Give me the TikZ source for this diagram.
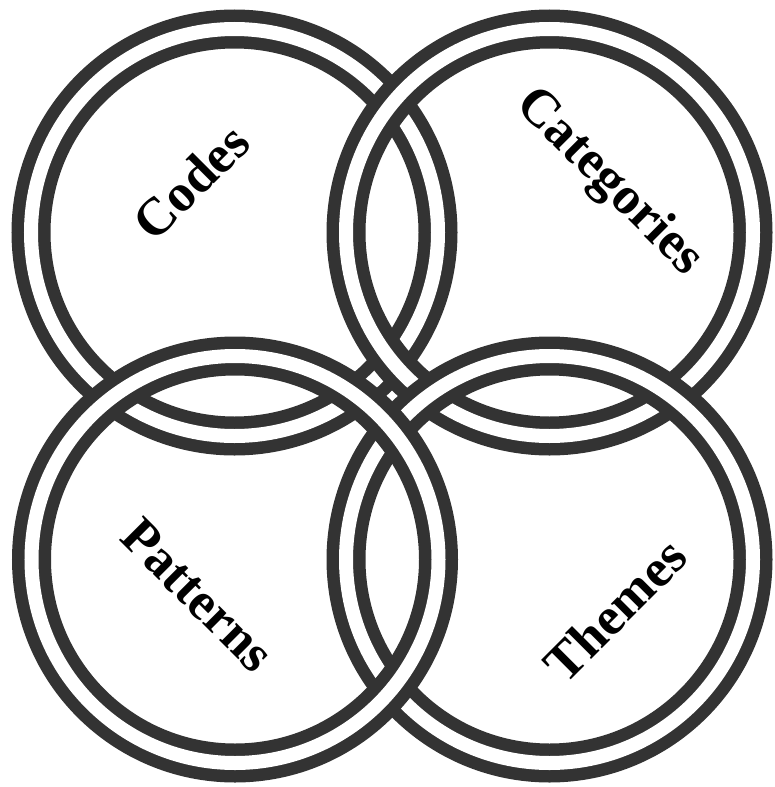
\documentclass[tikz,border=0pt]{standalone}
\usepackage{fontspec}
\setmainfont{Liberation Serif}
\usepackage{tikz}
\definecolor{ringcolor}{RGB}{51,51,51}
\tikzset{
  ring/.style={draw=ringcolor, line width=12.5pt, double=white,
               double distance=14pt},
  ringlabel/.style={font=\fontsize{53}{60}\selectfont\bfseries, text=black,
                    inner sep=0pt},
}
\begin{document}
\begin{tikzpicture}[x=1pt, y=-1pt]
  \useasboundingbox (0,0) rectangle (774,787);

  % Centres
  \coordinate (codesc)  at (234.5,232.5);
  \coordinate (catc)    at (549.5,232.5);
  \coordinate (themesc) at (549.5,559.5);
  \coordinate (pattc)   at (235,559.5);

  % Rings, back to front
  \draw[ring] (codesc)  circle[radius=203.5pt];
  \draw[ring] (catc)    circle[radius=203.5pt];
  \draw[ring] (themesc) circle[radius=203.5pt];
  \draw[ring] (pattc)   circle[radius=203.5pt];

  % Labels
  \node[ringlabel, rotate=45]  (codes)      at (191,182) {Codes};
  \node[ringlabel, rotate=-45] (categories) at (609,183) {Categories};
  \node[ringlabel, rotate=-45] (patterns)   at (198,595) {Patterns};
  \node[ringlabel, rotate=45]  (themes)     at (615,610) {Themes};
\end{tikzpicture}
\end{document}
